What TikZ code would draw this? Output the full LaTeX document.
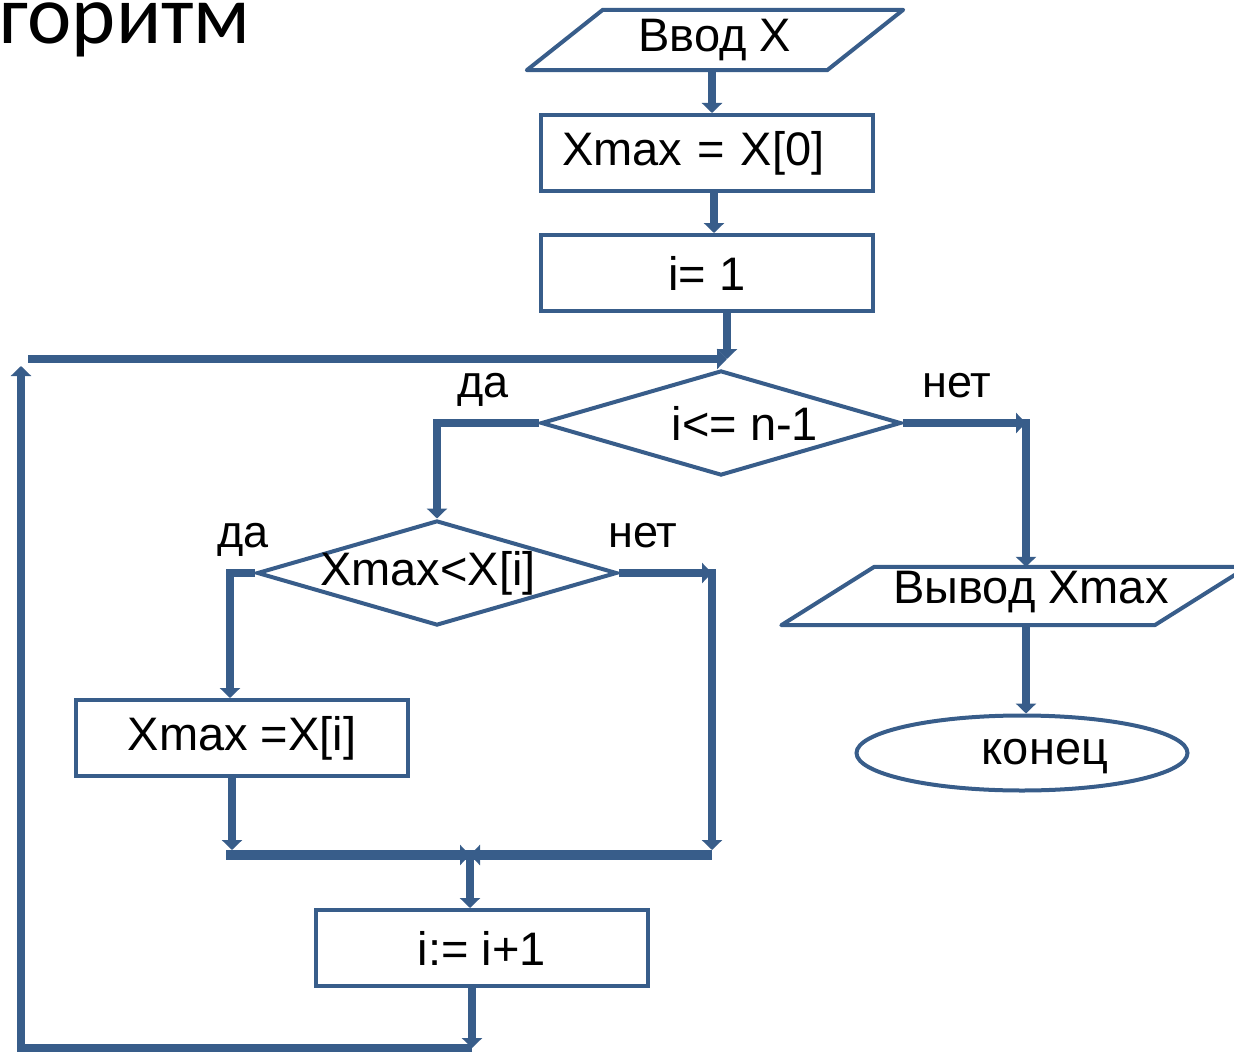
\documentclass[tikz,border=0pt]{standalone}
\usepackage{fontspec}
\setmainfont{Liberation Sans}
\newfontfamily\titlefont{Carlito}
\usetikzlibrary{arrows.meta, positioning, shapes.geometric}
\definecolor{flowblue}{RGB}{56,93,138}
\tikzset{
        x=1pt, y=-1pt, % one unit is one pixel of the slide, y runs downwards
        >={Triangle[length=10pt,width=20pt]}, % small pointed arrow heads
        txt/.style={font=\fontsize{47}{56}\selectfont}, % text in the blocks
        lbl/.style={font=\fontsize{45}{54}\selectfont, anchor=base}, % yes / no marks
        box/.style={txt, draw=flowblue, line width=4pt, minimum width=332pt, minimum height=76pt, inner sep=0pt}, % process blocks
        cond/.style={diamond, draw=flowblue, line width=4pt, minimum width=360pt, minimum height=105pt, inner sep=0pt}, % decisions
        ioshape/.style={draw=flowblue, line width=4pt, line join=round}, % input / output outline
        flow/.style={->, draw=flowblue, line width=8pt}, % connectors
    }
\begin{document}
\begin{tikzpicture}
    \useasboundingbox (0,0) rectangle (1234,1054);
    \clip (0,0) rectangle (1234,1054);
    \node[anchor=base west, font=\titlefont\fontsize{84}{94}\selectfont] (ttl) at (-4,44) {горитм};

    % input
    \node[txt, minimum width=300pt, minimum height=60pt, inner sep=0pt] (inp) at (715,40) {Ввод X};
    \draw[ioshape] ([xshift=-38pt]inp.south west) -- ([xshift=38pt]inp.north west)
      -- ([xshift=38pt]inp.north east) -- ([xshift=-38pt]inp.south east) -- cycle;
    \node[box, text width=290pt, align=left] (xmax0) at (707,153) {Xmax = X[0]};
    \node[box] (ione) at (707,273) {i= 1};

    % loop condition
    \node[cond, label={[txt, xshift=24pt]center:{i<= n-1}}] (chk) at (721,423) {};
    \node[lbl] (yes1) at (483,397) {да};
    \node[lbl] (no1) at (957,397) {нет};

    % inner condition
    \node[cond, label={[txt, xshift=-9pt]center:{Xmax<X[i]}}] (cmp) at (437,573) {};
    \node[lbl] (yes2) at (243,547) {да};
    \node[lbl] (no2) at (643,547) {нет};
    \node[box] (upd) at (242,738) {Xmax =X[i]};
    \node[box] (inc) at (482,948) {i:= i+1};

    % output and end
    \node[minimum width=373pt, minimum height=58pt, inner sep=0pt,
      label={[txt, xshift=16pt, yshift=4pt]center:{Вывод Xmax}}] (outp) at (1015,596) {};
    \draw[ioshape] ([xshift=-47pt]outp.south west) -- ([xshift=46pt]outp.north west)
      -- ([xshift=46pt]outp.north east) -- ([xshift=-47pt]outp.south east) -- cycle;
    \node[ellipse, draw=flowblue, line width=4pt, minimum width=331pt, minimum height=75pt, inner sep=0pt,
      label={[txt, xshift=23pt, yshift=-4pt]center:конец}] (fin) at (1022,753) {};

    % corners of the connectors
    \coordinate (join) at (727,359);
    \coordinate (loopT) at (28,359);
    \coordinate (loopL) at (21,366);
    \coordinate (loopB) at (472,1048);
    \coordinate (noA) at (1026,423);
    \coordinate (yesB) at (230,573);
    \coordinate (noB) at (712,573);
    \coordinate (mL) at (226,855);
    \coordinate (mR) at (712,855);
    \coordinate (mC) at (470,855);
    \coordinate (mLa) at (232,850);
    \coordinate (mRa) at (712,850);

    \draw[flow] ([xshift=-3pt]inp.south) -- ([xshift=-3pt]inp.south |- xmax0.north);
    \draw[flow] ([xshift=7pt]xmax0.south) -- ([xshift=7pt]xmax0.south |- ione.north);
    \draw[flow] (ione.south -| join) -- (join);
    \draw[flow] (loopT) -- (join);
    \draw[flow] (chk.west) -| (cmp.north);
    \draw[flow] (chk.east) -- (noA);
    \draw[flow] ([yshift=4pt]noA) -- (noA |- outp.north);
    \draw[flow] (outp.south -| noA) -- (fin.north -| noA);
    \draw[flow] (cmp.west) -| (yesB |- upd.north);
    \draw[flow] (cmp.east) -- (noB);
    \draw[flow] ([yshift=4pt]noB) -- (mRa);
    \draw[flow] (upd.south -| mLa) -- (mLa);
    \draw[draw=flowblue, line width=10pt] (mL) -- (mR);
    \draw[flow] (mL) -- (mC);
    \draw[flow] (mR) -- (mC);
    \draw[flow] (mC) -- (mC |- inc.north);
    \draw[flow] (inc.south -| loopB) -- (loopB);
    \draw[flow] (loopB) -| (loopL);
\end{tikzpicture}
\end{document}
